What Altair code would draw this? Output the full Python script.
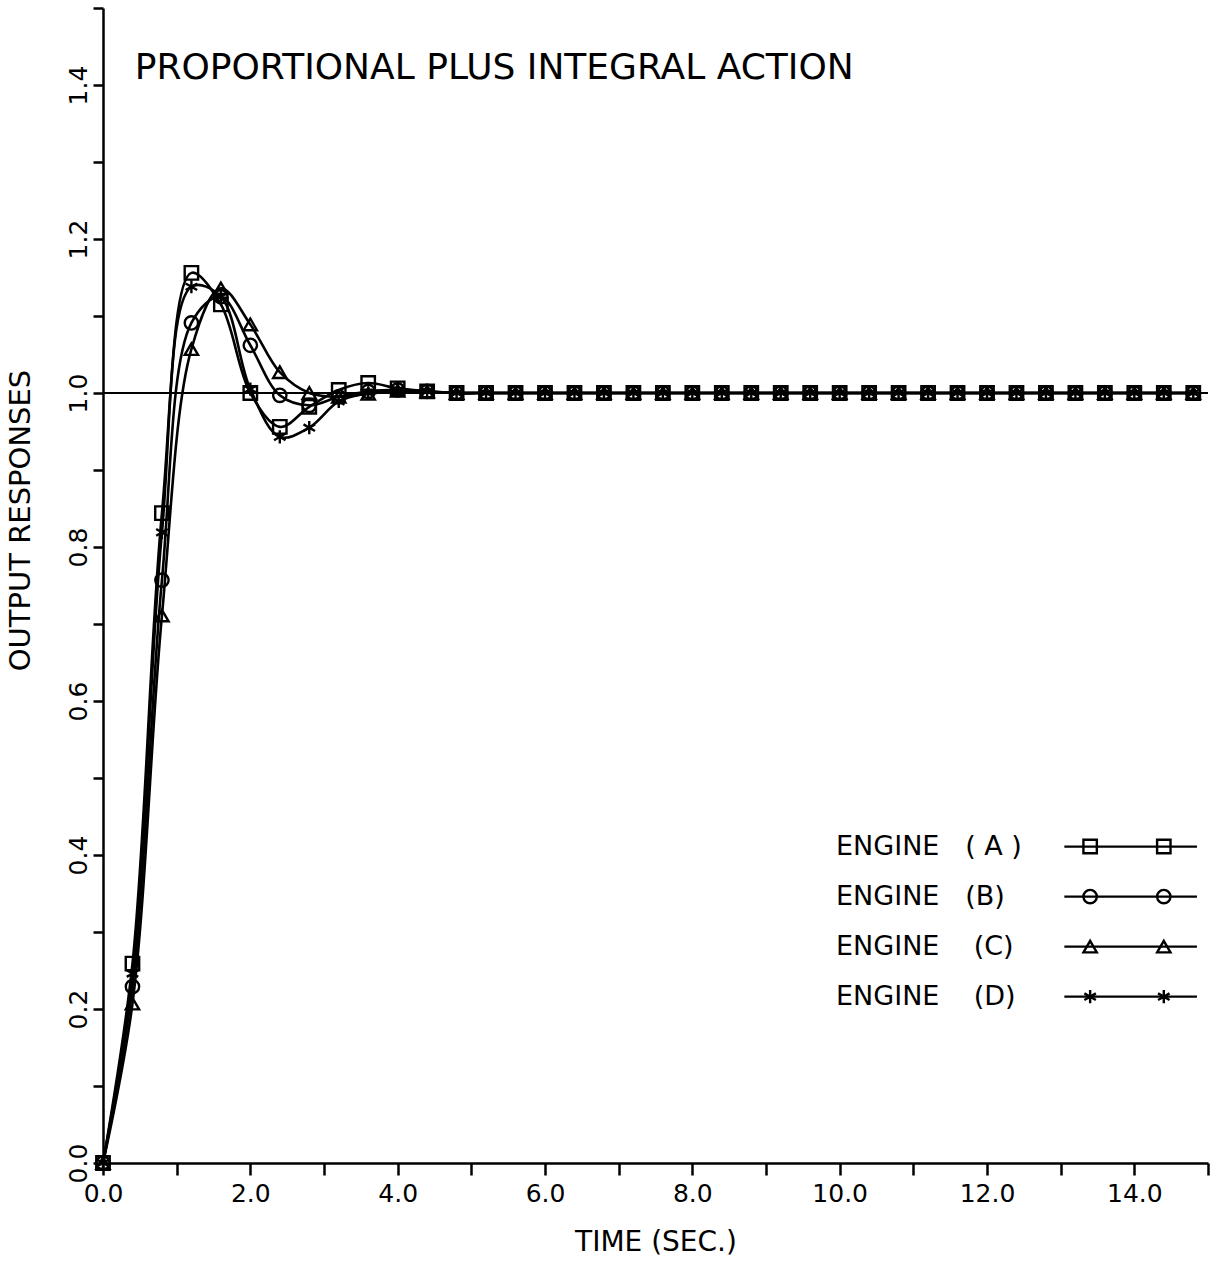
import altair as alt
import pandas as pd

# Sampling instants (s) at which the responses were plotted
time_s = [0.0, 0.4, 0.8, 1.2, 1.6, 2.0, 2.4, 2.8, 3.2, 3.6, 4.0, 4.4, 4.8,
          5.2, 5.6, 6.0, 6.4, 6.8, 7.2, 7.6, 8.0, 8.4, 8.8, 9.2, 9.6, 10.0,
          10.4, 10.8, 11.2, 11.6, 12.0, 12.4, 12.8, 13.2, 13.6, 14.0, 14.4, 14.8]

# Output responses of the four engines under PI control
engine_a = [0.0, 0.259, 0.844, 1.156, 1.115, 1.0, 0.956, 0.982, 1.004, 1.013,
            1.006, 1.002, 1.0, 1.0, 1.0, 1.0, 1.0, 1.0, 1.0, 1.0, 1.0, 1.0,
            1.0, 1.0, 1.0, 1.0, 1.0, 1.0, 1.0, 1.0, 1.0, 1.0, 1.0, 1.0, 1.0,
            1.0, 1.0, 1.0]
engine_b = [0.0, 0.229, 0.757, 1.091, 1.125, 1.062, 0.997, 0.984, 0.995, 1.002,
            1.004, 1.002, 1.0, 1.0, 1.0, 1.0, 1.0, 1.0, 1.0, 1.0, 1.0, 1.0,
            1.0, 1.0, 1.0, 1.0, 1.0, 1.0, 1.0, 1.0, 1.0, 1.0, 1.0, 1.0, 1.0,
            1.0, 1.0, 1.0]
engine_c = [0.0, 0.207, 0.711, 1.057, 1.136, 1.089, 1.027, 1.0, 0.995, 0.999,
            1.003, 1.002, 1.0, 1.0, 1.0, 1.0, 1.0, 1.0, 1.0, 1.0, 1.0, 1.0,
            1.0, 1.0, 1.0, 1.0, 1.0, 1.0, 1.0, 1.0, 1.0, 1.0, 1.0, 1.0, 1.0,
            1.0, 1.0, 1.0]
engine_d = [0.0, 0.246, 0.819, 1.138, 1.125, 1.005, 0.943, 0.955, 0.989, 1.0,
            1.004, 1.002, 1.0, 1.0, 1.0, 1.0, 1.0, 1.0, 1.0, 1.0, 1.0, 1.0,
            1.0, 1.0, 1.0, 1.0, 1.0, 1.0, 1.0, 1.0, 1.0, 1.0, 1.0, 1.0, 1.0,
            1.0, 1.0, 1.0]

series_names = ["A", "B", "C", "D"]
legend_labels = ["ENGINE\u00a0\u00a0\u00a0( A )",
                 "ENGINE\u00a0\u00a0\u00a0(B)",
                 "ENGINE\u00a0\u00a0\u00a0\u00a0(C)",
                 "ENGINE\u00a0\u00a0\u00a0\u00a0(D)"]
chart_title = ["PROPORTIONAL PLUS INTEGRAL ACTION"]
reference_level = [1.0]

FONT = "DejaVu Sans"
ASTERISK = "M0,-1L0,1M-0.87,-0.5L0.87,0.5M-0.87,0.5L0.87,-0.5"

records = []
for name, values in zip(series_names, [engine_a, engine_b, engine_c, engine_d]):
    for t, v in zip(time_s, values):
        records.append({"t": t, "y": v, "engine": name})
df = pd.DataFrame(records)

x_scale = alt.Scale(domain=[0, 15], nice=False, zero=False)
y_scale = alt.Scale(domain=[0, 1.5], nice=False, zero=False)
shape_scale = alt.Scale(domain=series_names,
                        range=["square", "circle", "triangle-up", ASTERISK])
size_scale = alt.Scale(domain=series_names, range=[180, 175, 270, 320])

x_axis = alt.Axis(
    title="TIME  (SEC.)",
    values=list(range(0, 16)),
    labelExpr="(datum.value % 2 == 0 && datum.value < 15) ? format(datum.value, '.1f') : ''",
    labelFlush=False, labelOverlap=False,
    tickSize=12, tickWidth=2.5, tickColor="black",
    domainWidth=2.5, domainColor="black",
    labelFont=FONT, labelFontSize=25, labelColor="black", labelPadding=6,
    titleFont=FONT, titleFontSize=28, titleFontWeight="normal", titleColor="black",
    titlePadding=22, grid=False,
)
y_axis = alt.Axis(
    title="OUTPUT  RESPONSES",
    values=[round(0.1 * i, 1) for i in range(16)],
    labelExpr="(round(datum.value * 10) % 2 == 0 && datum.value < 1.45) ? format(datum.value, '.1f') : ''",
    labelAngle=270, labelAlign="center", labelBaseline="bottom",
    labelFlush=False, labelOverlap=False,
    tickSize=10, tickWidth=2.5, tickColor="black",
    domainWidth=2.5, domainColor="black",
    labelFont=FONT, labelFontSize=25, labelColor="black", labelPadding=2,
    titleFont=FONT, titleFontSize=29, titleFontWeight="normal", titleColor="black",
    titleAngle=270, titleX=-68, titleY=512, titleAlign="center", titleBaseline="bottom",
    grid=False,
)

base = alt.Chart(df)

ref_line = alt.Chart(pd.DataFrame({"level": reference_level})).mark_rule(
    color="black", strokeWidth=2.2
).encode(y=alt.Y("level:Q", scale=y_scale, axis=y_axis))

lines = base.mark_line(interpolate="catmull-rom", color="black", strokeWidth=2.6).encode(
    x=alt.X("t:Q", scale=x_scale, axis=x_axis),
    y=alt.Y("y:Q", scale=y_scale, axis=y_axis),
    detail="engine:N",
)

points = base.mark_point(filled=False, color="black", strokeWidth=2.4, opacity=1).encode(
    x=alt.X("t:Q", scale=x_scale),
    y=alt.Y("y:Q", scale=y_scale),
    shape=alt.Shape("engine:N", scale=shape_scale, legend=None),
    size=alt.Size("engine:N", scale=size_scale, legend=None),
)

# Heading written inside the plot frame (data units)
TITLE_X = 0.43
TITLE_Y = 1.422
title_df = pd.DataFrame({"text": chart_title})
title_df["tx"] = TITLE_X
title_df["ty"] = TITLE_Y
heading = alt.Chart(title_df).mark_text(
    align="left", baseline="middle", font=FONT, fontSize=36, color="black"
).encode(
    x=alt.X("tx:Q", scale=x_scale),
    y=alt.Y("ty:Q", scale=y_scale),
    text="text:N",
)

# Hand-placed key in the lower right of the plot (data units)
LEG_TEXT_X = 9.95
LEG_LINE_X = (13.05, 14.85)
LEG_MARK_X = (13.4, 14.4)
LEG_Y0 = 0.411
LEG_DY = 0.065

legend_rows = pd.DataFrame({
    "engine": series_names,
    "label": legend_labels,
    "row": list(range(len(series_names))),
})
legend_rows["ly"] = LEG_Y0 - legend_rows["row"] * LEG_DY
legend_rows["lx"] = LEG_TEXT_X
legend_rows["x1"] = LEG_LINE_X[0]
legend_rows["x2"] = LEG_LINE_X[1]

legend_marks = pd.concat(
    [legend_rows.assign(mx=LEG_MARK_X[0]), legend_rows.assign(mx=LEG_MARK_X[1])],
    ignore_index=True,
)

leg_text = alt.Chart(legend_rows).mark_text(
    align="left", baseline="middle", font=FONT, fontSize=27, color="black"
).encode(
    x=alt.X("lx:Q", scale=x_scale),
    y=alt.Y("ly:Q", scale=y_scale),
    text="label:N",
)

leg_line = alt.Chart(legend_rows).mark_rule(color="black", strokeWidth=2.2).encode(
    x=alt.X("x1:Q", scale=x_scale),
    x2="x2:Q",
    y=alt.Y("ly:Q", scale=y_scale),
)

leg_pts = alt.Chart(legend_marks).mark_point(
    filled=False, color="black", strokeWidth=2.4, opacity=1
).encode(
    x=alt.X("mx:Q", scale=x_scale),
    y=alt.Y("ly:Q", scale=y_scale),
    shape=alt.Shape("engine:N", scale=shape_scale, legend=None),
    size=alt.Size("engine:N", scale=size_scale, legend=None),
)

chart = alt.layer(ref_line, lines, points, heading, leg_line, leg_pts, leg_text).properties(
    width=1105,
    height=1155,
    autosize=alt.AutoSizeParams(type="none"),
    padding={"left": 103, "top": 8, "right": 8, "bottom": 118},
    background="white",
).configure_view(stroke=None)

chart.save("out.html", embed_options={"renderer": "svg", "actions": False})
